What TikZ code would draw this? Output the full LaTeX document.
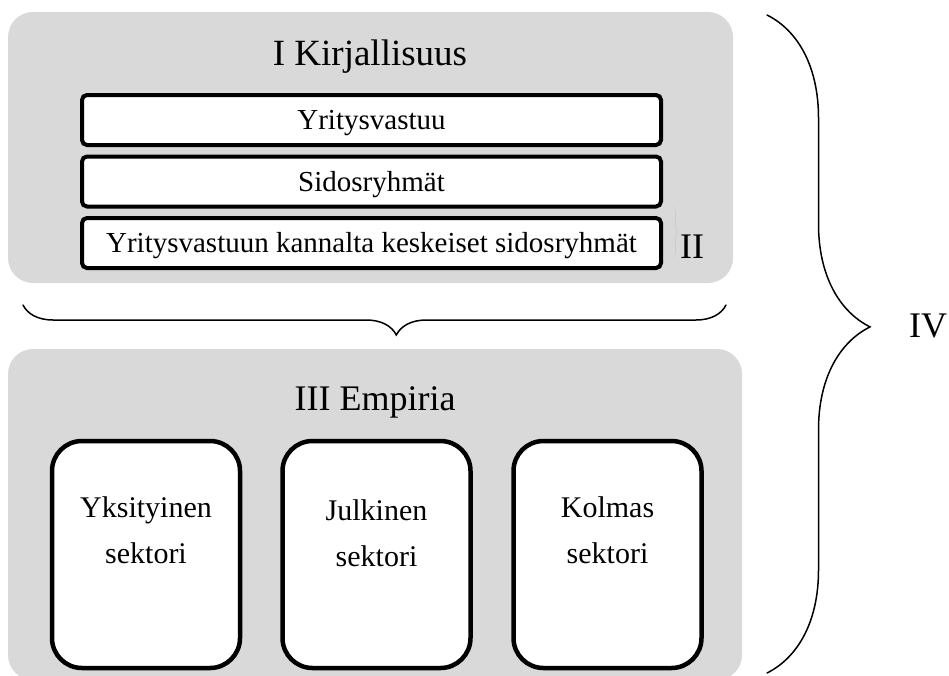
\documentclass[tikz,border=0pt]{standalone}
\usepackage{fontspec}
\setmainfont{Liberation Serif}
\usetikzlibrary{positioning,decorations.pathreplacing}
\definecolor{panelgray}{RGB}{217,217,217}

\begin{document}
\begin{tikzpicture}[x=1pt,y=1pt,
  panel/.style={fill=panelgray, rounded corners=25pt, inner sep=0pt, outer sep=0pt},
  topic/.style={draw, line width=4pt, fill=white, rounded corners=5pt, outer sep=0pt,
    minimum width=579pt, minimum height=50pt, inner sep=0pt,
    text height=19pt, text depth=0pt, font=\fontsize{29}{35}\selectfont},
  sector/.style={draw, line width=4.5pt, fill=white, rounded corners=30pt, outer sep=0pt,
    minimum width=188pt, minimum height=227pt, inner sep=0pt},
  sectorlabel/.style={anchor=base, align=center, font=\fontsize{30}{46}\selectfont},
  heading/.style={anchor=base, inner sep=0pt, font=\fontsize{37}{44}\selectfont},
  bracket/.style={decorate, line width=1.5pt, line cap=round}
]
\useasboundingbox (0,0) rectangle (949,-675);

% Literature
\node[panel, minimum width=725pt, minimum height=271pt] (kirj) at (370.5,-147.5) {};
\node[heading] (kirjT) at (370,-65) {I Kirjallisuus};
\node[topic] (yv) at (371.5,-120) {Yritysvastuu};
\node[topic, below=11.5pt of yv] (sr) {Sidosryhmät};
\node[topic, below=11.5pt of sr] (kes) {Yritysvastuun kannalta keskeiset sidosryhmät};

% II
\coordinate (iiTop) at (673,-207);
\coordinate (iiBot) at (673,-257);
\draw[bracket, line width=0.6pt, gray!40, decoration={brace, amplitude=5pt}] (iiTop) -- (iiBot);
\node[heading, font=\fontsize{36}{44}\selectfont] (ii) at (692,-258) {II};

% Brace between the panels
\coordinate (hbR) at (726,-305);
\coordinate (hbL) at (23,-305);
\draw[bracket, decoration={brace, amplitude=30pt, aspect=0.469}] (hbR) -- (hbL);

% Empirical part
\node[panel, minimum width=734pt, minimum height=331pt] (emp) at (375,-514.5) {};
\node[heading, font=\fontsize{36}{44}\selectfont] (empT) at (375,-410) {III Empiria};
\node[sector] (yks) at (146,-554.5) {};
\node[sector, right=42.5pt of yks] (julk) {};
\node[sector, right=43pt of julk] (kolm) {};
\node[sectorlabel] (yksL) at ([yshift=-122pt]yks.north) {Yksityinen\\sektori};
\node[sectorlabel] (julkL) at ([yshift=-125pt]julk.north) {Julkinen\\sektori};
\node[sectorlabel] (kolmL) at ([yshift=-122pt]kolm.north) {Kolmas\\sektori};

% IV
\coordinate (ivTop) at (767,-15);
\coordinate (ivBot) at (767,-673);
\draw[bracket, decoration={brace, amplitude=103pt, aspect=0.474}] (ivTop) -- (ivBot);
\node[heading, font=\fontsize{36}{44}\selectfont] (iv) at (928,-337) {IV};

\end{tikzpicture}
\end{document}
